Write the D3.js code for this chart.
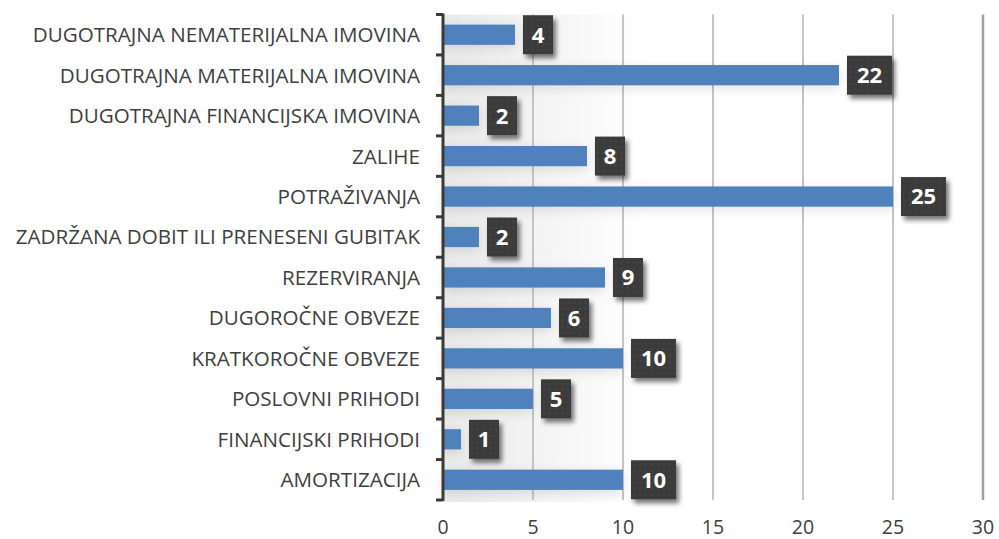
<!DOCTYPE html>
<html><head><meta charset="utf-8">
<script src="https://cdn.jsdelivr.net/npm/d3@7"></script>
<style>body{margin:0;background:#fff}svg{display:block}</style>
</head><body>
<svg id="c" width="999" height="539"></svg>
<script>
const categories = ["DUGOTRAJNA NEMATERIJALNA IMOVINA","DUGOTRAJNA MATERIJALNA IMOVINA","DUGOTRAJNA FINANCIJSKA IMOVINA","ZALIHE","POTRAŽIVANJA","ZADRŽANA DOBIT ILI PRENESENI GUBITAK","REZERVIRANJA","DUGOROČNE OBVEZE","KRATKOROČNE OBVEZE","POSLOVNI PRIHODI","FINANCIJSKI PRIHODI","AMORTIZACIJA"];
const values = [4,22,2,8,25,2,9,6,10,5,1,10];
const xTicks = [0,5,10,15,20,25,30];

const svg = d3.select("#c");
const m = {l:443, r:983, t:14.5, b:500};
const x = d3.scaleLinear().domain([0,30]).range([m.l,m.r]);
const y = d3.scaleBand().domain(categories).range([m.t,m.b]).paddingInner(0.5).paddingOuter(0.25);

const defs = svg.append("defs");
const g = defs.append("linearGradient").attr("id","bg").attr("x1",0).attr("x2",1).attr("y1",0).attr("y2",0);
g.append("stop").attr("offset",0).attr("stop-color","#e9e9e9");
g.append("stop").attr("offset",1).attr("stop-color","#ffffff");
const pat = defs.append("pattern").attr("id","dots").attr("width",6).attr("height",6).attr("patternUnits","userSpaceOnUse");
pat.append("rect").attr("width",6).attr("height",6).attr("fill","#3b3b3b");
pat.append("circle").attr("cx",3).attr("cy",3).attr("r",1).attr("fill","#484848");
const sh = defs.append("filter").attr("id","sh").attr("x","-30%").attr("y","-30%").attr("width","170%").attr("height","170%");
sh.append("feGaussianBlur").attr("in","SourceAlpha").attr("stdDeviation",2.5).attr("result","b");
sh.append("feOffset").attr("in","b").attr("dx",3).attr("dy",4).attr("result","o");
sh.append("feComponentTransfer").attr("in","o").attr("result","o2").append("feFuncA").attr("type","linear").attr("slope",0.55);
const mg = sh.append("feMerge"); mg.append("feMergeNode").attr("in","o2"); mg.append("feMergeNode").attr("in","SourceGraphic");
const bs = defs.append("filter").attr("id","bs").attr("x","-10%").attr("y","-60%").attr("width","130%").attr("height","260%");
bs.append("feGaussianBlur").attr("in","SourceAlpha").attr("stdDeviation",6).attr("result","b");
bs.append("feOffset").attr("in","b").attr("dx",0).attr("dy",3).attr("result","o");
bs.append("feComponentTransfer").attr("in","o").attr("result","o2").append("feFuncA").attr("type","linear").attr("slope",0.12);
const mg2 = bs.append("feMerge"); mg2.append("feMergeNode").attr("in","o2"); mg2.append("feMergeNode").attr("in","SourceGraphic");

// background shading
svg.append("rect").attr("x",m.l).attr("y",m.t).attr("width",200).attr("height",m.b-m.t+2).attr("fill","url(#bg)");

// gridlines
svg.append("g").selectAll("line").data(xTicks.filter(d=>d>0)).join("line")
  .attr("x1",d=>x(d)).attr("x2",d=>x(d)).attr("y1",m.t).attr("y2",m.b)
  .attr("stroke",(d)=>d===30?"#a0a0a0":"#c4c4c4").attr("stroke-width",d=>d===30?2.5:2);

// bars
svg.append("g").selectAll("rect").data(values).join("rect")
  .attr("x",x(0)).attr("y",(d,i)=>y(categories[i])).attr("width",d=>x(d)-x(0)).attr("height",y.bandwidth())
  .attr("fill","#4f81bd").attr("filter","url(#bs)");

// axis line with ticks
const ax = svg.append("g");
ax.append("line").attr("x1",m.l).attr("x2",m.l).attr("y1",m.t-1).attr("y2",m.b+1).attr("stroke","#3a3a3a").attr("stroke-width",3);
const bounds = d3.range(categories.length+1).map(i=>m.t+i*(m.b-m.t)/categories.length);
ax.selectAll("line.t").data(bounds).join("line").attr("class","t")
  .attr("x1",m.l-7).attr("x2",m.l).attr("y1",d=>d).attr("y2",d=>d).attr("stroke","#3a3a3a").attr("stroke-width",3);

// category labels
svg.append("g").selectAll("text").data(categories).join("text")
  .attr("x",420).attr("y",d=>y(d)+y.bandwidth()/2).attr("dy","0.36em").attr("text-anchor","end")
  .attr("font-family","Open Sans, sans-serif").attr("font-size",20.6).attr("fill","#404040").text(d=>d);

// x tick labels
svg.append("g").selectAll("text").data(xTicks).join("text")
  .attr("x",d=>x(d)).attr("y",533.5).attr("text-anchor","middle")
  .attr("font-family","Open Sans, sans-serif").attr("font-size",19.5).attr("fill","#404040").text(d=>d);

// value label boxes
const lb = svg.append("g").selectAll("g").data(values).join("g")
  .attr("transform",(d,i)=>`translate(${x(d)+8},${y(categories[i])+y.bandwidth()/2})`);
lb.append("rect").attr("x",0).attr("y",-19.5).attr("width",d=>String(d).length>1?45:30).attr("height",39)
  .attr("fill","url(#dots)").attr("filter","url(#sh)");
lb.append("text").attr("x",d=>(String(d).length>1?45:30)/2).attr("y",0).attr("dy","0.36em").attr("text-anchor","middle")
  .attr("font-family","Open Sans, sans-serif").attr("font-weight","bold").attr("font-size",22).attr("fill","#fff").text(d=>d);
</script>
</body></html>
